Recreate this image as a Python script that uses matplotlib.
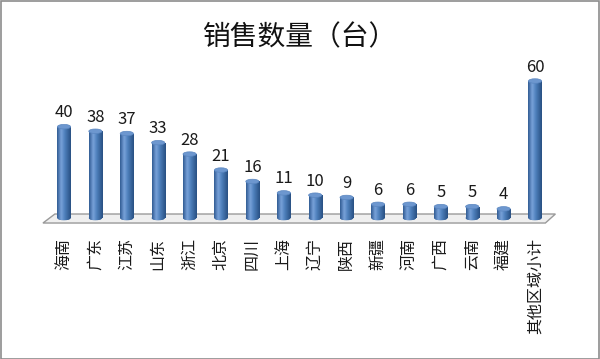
import matplotlib
matplotlib.use("Agg")
import matplotlib.pyplot as plt
import numpy as np
from matplotlib.patches import Ellipse, Polygon, Rectangle
from matplotlib.colors import LinearSegmentedColormap

plt.rcParams['font.family'] = ['Noto Sans CJK SC', 'DejaVu Sans']

title = "销售数量（台）"
categories = ["海南", "广东", "江苏", "山东", "浙江", "北京", "四川", "上海", "辽宁",
              "陕西", "新疆", "河南", "广西", "云南", "福建", "其他区域小计"]
values = [40, 38, 37, 33, 28, 21, 16, 11, 10, 9, 6, 6, 5, 5, 4, 60]

W, H = 600, 359
fig = plt.figure(figsize=(W / 100, H / 100), dpi=100)
fig.patch.set_facecolor("white")

# mapping: index 0 -> px 64, spacing 31.4 ; value 0 -> py 218 (from top), 2.283 px/unit
x0, dx = 64.0, 31.4
y0_top, dy = 218.0, 2.283
xlim = ((0 - x0) / dx, (W - x0) / dx)
ylim = ((y0_top - H) / dy, (y0_top - 0) / dy)
ax = fig.add_axes([0, 0, 1, 1])
ax.set_xlim(*xlim)
ax.set_ylim(*ylim)
ax.axis("off")

n = len(values)
bw = 0.42
ell_h = 4.5 / dy

# floor parallelogram
floor = Polygon([(-0.29, 1.75), (n - 1 + 0.65, 1.75), (n - 1 + 0.33, -2.2), (-0.67, -2.2)],
                closed=True, facecolor="#efefef", edgecolor="#9a9a9a", lw=1.0, zorder=1)
ax.add_patch(floor)

cmap = LinearSegmentedColormap.from_list(
    "cyl", [(0.0, "#2f5a92"), (0.3, "#7aa3da"), (0.55, "#4f81bd"), (1.0, "#284f82")])
grad = np.linspace(0, 1, 64).reshape(1, -1)

xs = np.arange(n)
bars = ax.bar(xs, values, width=bw, color="#4f81bd", zorder=3, linewidth=0)
for i, (b, v) in enumerate(zip(bars, values)):
    x = b.get_x()
    eb = Ellipse((i, 0), bw, ell_h, facecolor="#3a68a3", edgecolor="none", zorder=2.5)
    ax.add_patch(eb)
    im = ax.imshow(grad, cmap=cmap, aspect="auto", extent=(x, x + bw, -ell_h / 2, v),
                   zorder=3.2, interpolation="bicubic")
    im.set_clip_path(Rectangle((x, 0), bw, v, transform=ax.transData))
    im2 = ax.imshow(grad, cmap=cmap, aspect="auto", extent=(x, x + bw, -ell_h / 2, 0),
                    zorder=3.1, interpolation="bicubic")
    im2.set_clip_path(Ellipse((i, 0), bw, ell_h, transform=ax.transData))
    et = Ellipse((i, v), bw, ell_h, facecolor="#6d97cf", edgecolor="#5a86c0", lw=0.5, zorder=4)
    ax.add_patch(et)
    ax.text(i, v + 14 / dy, str(v), ha="center", va="center", fontsize=12,
            color="#1a1a1a", zorder=5)
    ax.text(i, (y0_top - 238) / dy, categories[i], rotation=90, ha="center", va="top",
            fontsize=11.5, color="#1a1a1a", zorder=5)

fig.text(0.5, 1 - 37 / H, title, ha="center", va="center", fontsize=20, color="#111111")

# outer border
fig.add_artist(Rectangle((0.5 / W, 0.5 / H), 1 - 1.5 / W, 1 - 1.5 / H, transform=fig.transFigure,
                         fill=False, edgecolor="#8c8c8c", lw=1.2))

fig.savefig("out.png", dpi=100)
